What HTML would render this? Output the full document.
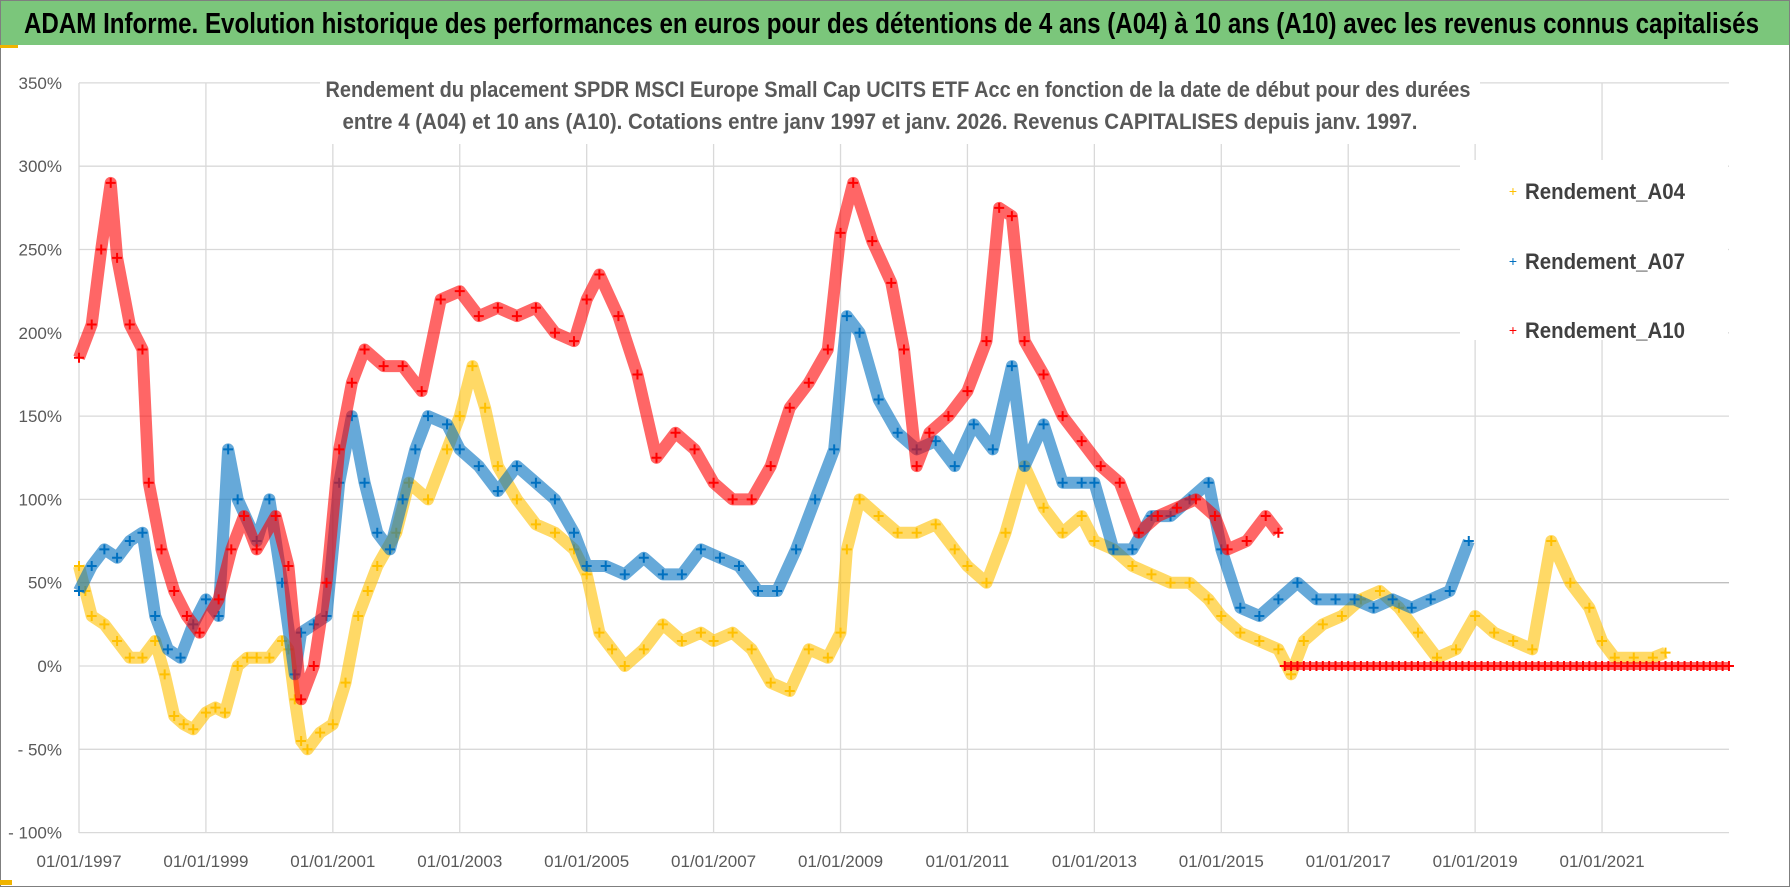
<!DOCTYPE html>
<html><head><meta charset="utf-8"><style>
body{margin:0;background:#fff;width:1790px;height:887px;overflow:hidden}
svg text{font-family:"Liberation Sans",sans-serif}
</style></head><body>
<svg id="chart" width="1790" height="887" xmlns="http://www.w3.org/2000/svg">
<rect x="0.5" y="0.5" width="1789" height="886" fill="#fff" stroke="#7f7f7f"/>
<rect x="1" y="1" width="1788" height="44" fill="#7bc67b"/>
<rect x="0" y="45" width="18" height="3" fill="#f0b400"/>
<rect x="0" y="880" width="12" height="5" fill="#f0b400"/>
<text x="24" y="33" font-size="29" font-weight="bold" fill="#000" textLength="1735" lengthAdjust="spacingAndGlyphs">ADAM Informe. Evolution historique des performances en euros pour des détentions de 4 ans (A04) à 10 ans (A10) avec les revenus connus capitalisés</text>
<g id="grid"></g>
<g id="axes"></g>
<g id="series"></g>
<rect x="320" y="68" width="1160" height="76" fill="#fff"/>
<text x="898" y="97" font-size="22" font-weight="bold" fill="#595959" text-anchor="middle" textLength="1145" lengthAdjust="spacingAndGlyphs">Rendement du placement SPDR MSCI Europe Small Cap UCITS ETF Acc en fonction de la date de début pour des durées</text>
<text x="880" y="129" font-size="22" font-weight="bold" fill="#595959" text-anchor="middle" textLength="1075" lengthAdjust="spacingAndGlyphs">entre 4 (A04) et 10 ans (A10). Cotations entre janv 1997 et janv. 2026. Revenus CAPITALISES depuis janv. 1997.</text>
<g>
<rect x="1460" y="160" width="268" height="180" fill="#fff"/>
<g><text x="1513" y="196" font-size="14" fill="#ffc000" text-anchor="middle">+</text><text x="1525" y="199" font-size="22" font-weight="bold" fill="#404040" textLength="160" lengthAdjust="spacingAndGlyphs">Rendement_A04</text></g>
<g><text x="1513" y="266" font-size="14" fill="#0070c0" text-anchor="middle">+</text><text x="1525" y="269" font-size="22" font-weight="bold" fill="#404040" textLength="160" lengthAdjust="spacingAndGlyphs">Rendement_A07</text></g>
<g><text x="1513" y="335" font-size="14" fill="#ff0000" text-anchor="middle">+</text><text x="1525" y="338" font-size="22" font-weight="bold" fill="#404040" textLength="160" lengthAdjust="spacingAndGlyphs">Rendement_A10</text></g>
</g>
</svg>
<script>
const yTicks=[350,300,250,200,150,100,50,0,-50,-100];
const xTickYears=[1997,1999,2001,2003,2005,2007,2009,2011,2013,2015,2017,2019,2021];
const a04Dates=[1997.0,1997.1,1997.2,1997.4,1997.6,1997.8,1998.0,1998.2,1998.35,1998.5,1998.65,1998.8,1999.0,1999.15,1999.3,1999.5,1999.65,1999.8,2000.0,2000.2,2000.3,2000.4,2000.5,2000.6,2000.8,2001.0,2001.2,2001.4,2001.55,2001.7,2002.0,2002.2,2002.5,2002.8,2003.0,2003.2,2003.4,2003.6,2003.9,2004.2,2004.5,2004.8,2005.0,2005.2,2005.4,2005.6,2005.9,2006.2,2006.5,2006.8,2007.0,2007.3,2007.6,2007.9,2008.2,2008.5,2008.8,2009.0,2009.1,2009.3,2009.6,2009.9,2010.2,2010.5,2010.8,2011.0,2011.3,2011.6,2011.9,2012.2,2012.5,2012.8,2013.0,2013.3,2013.6,2013.9,2014.2,2014.5,2014.8,2015.0,2015.3,2015.6,2015.9,2016.1,2016.3,2016.6,2016.9,2017.2,2017.5,2017.8,2018.1,2018.4,2018.7,2019.0,2019.3,2019.6,2019.9,2020.2,2020.5,2020.8,2021.0,2021.2,2021.5,2021.8,2022.0];
const a04Values=[60,45,30,25,15,5,5,15,-5,-30,-35,-38,-28,-25,-28,0,5,5,5,15,10,-20,-45,-50,-40,-35,-10,30,45,60,80,110,100,130,150,180,155,120,100,85,80,70,55,20,10,0,10,25,15,20,15,20,10,-10,-15,10,5,20,70,100,90,80,80,85,70,60,50,80,120,95,80,90,75,70,60,55,50,50,40,30,20,15,10,-5,15,25,30,40,45,35,20,5,10,30,20,15,10,75,50,35,15,5,5,5,8];
const a07Dates=[1997.0,1997.2,1997.4,1997.6,1997.8,1998.0,1998.2,1998.4,1998.6,1998.8,1999.0,1999.2,1999.35,1999.5,1999.8,2000.0,2000.2,2000.4,2000.5,2000.7,2000.9,2001.1,2001.3,2001.5,2001.7,2001.9,2002.1,2002.3,2002.5,2002.8,2003.0,2003.3,2003.6,2003.9,2004.2,2004.5,2004.8,2005.0,2005.3,2005.6,2005.9,2006.2,2006.5,2006.8,2007.1,2007.4,2007.7,2008.0,2008.3,2008.6,2008.9,2009.1,2009.3,2009.6,2009.9,2010.2,2010.5,2010.8,2011.1,2011.4,2011.7,2011.9,2012.2,2012.5,2012.8,2013.0,2013.3,2013.6,2013.9,2014.2,2014.5,2014.8,2015.0,2015.3,2015.6,2015.9,2016.2,2016.5,2016.8,2017.1,2017.4,2017.7,2018.0,2018.3,2018.6,2018.9];
const a07Values=[45,60,70,65,75,80,30,10,5,25,40,30,130,100,75,100,50,-5,20,25,30,110,150,110,80,70,100,130,150,145,130,120,105,120,110,100,80,60,60,55,65,55,55,70,65,60,45,45,70,100,130,210,200,160,140,130,135,120,145,130,180,120,145,110,110,110,70,70,90,90,100,110,70,35,30,40,50,40,40,40,35,40,35,40,45,75];
const a10Dates=[1997.0,1997.2,1997.35,1997.5,1997.6,1997.8,1998.0,1998.1,1998.3,1998.5,1998.7,1998.9,1999.2,1999.4,1999.6,1999.8,2000.1,2000.3,2000.5,2000.7,2000.9,2001.1,2001.3,2001.5,2001.8,2002.1,2002.4,2002.7,2003.0,2003.3,2003.6,2003.9,2004.2,2004.5,2004.8,2005.0,2005.2,2005.5,2005.8,2006.1,2006.4,2006.7,2007.0,2007.3,2007.6,2007.9,2008.2,2008.5,2008.8,2009.0,2009.2,2009.5,2009.8,2010.0,2010.2,2010.4,2010.7,2011.0,2011.3,2011.5,2011.7,2011.9,2012.2,2012.5,2012.8,2013.1,2013.4,2013.7,2014.0,2014.3,2014.6,2014.9,2015.1,2015.4,2015.7,2015.9];
const a10Values=[185,205,250,290,245,205,190,110,70,45,30,20,40,70,90,70,90,60,-20,0,50,130,170,190,180,180,165,220,225,210,215,210,215,200,195,220,235,210,175,125,140,130,110,100,100,120,155,170,190,260,290,255,230,190,120,140,150,165,195,275,270,195,175,150,135,120,110,80,90,95,100,90,70,75,90,80];
const a10ZeroDates=[2016.0,2016.1,2016.2,2016.3,2016.4,2016.5,2016.6,2016.7,2016.8,2016.9,2017.0,2017.1,2017.2,2017.3,2017.4,2017.5,2017.6,2017.7,2017.8,2017.9,2018.0,2018.1,2018.2,2018.3,2018.4,2018.5,2018.6,2018.7,2018.8,2018.9,2019.0,2019.1,2019.2,2019.3,2019.4,2019.5,2019.6,2019.7,2019.8,2019.9,2020.0,2020.1,2020.2,2020.3,2020.4,2020.5,2020.6,2020.7,2020.8,2020.9,2021.0,2021.1,2021.2,2021.3,2021.4,2021.5,2021.6,2021.7,2021.8,2021.9,2022.0,2022.1,2022.2,2022.3,2022.4,2022.5,2022.6,2022.7,2022.8,2022.9,2023.0];
const a10ZeroValues=[0,0,0,0,0,0,0,0,0,0,0,0,0,0,0,0,0,0,0,0,0,0,0,0,0,0,0,0,0,0,0,0,0,0,0,0,0,0,0,0,0,0,0,0,0,0,0,0,0,0,0,0,0,0,0,0,0,0,0,0,0,0,0,0,0,0,0,0,0,0,0];

const NS='http://www.w3.org/2000/svg';
const X0=79,XPY=63.46,Y0=666,YPP=1.666,RIGHT=1729,TOP=83,BOTTOM=833;
function xs(yr){return X0+(yr-1997)*XPY;}
function ys(v){return Y0-v*YPP;}
function mk(tag,attrs,parent){const e=document.createElementNS(NS,tag);for(const k in attrs)e.setAttribute(k,attrs[k]);parent.appendChild(e);return e;}
const grid=document.getElementById('grid'),axes=document.getElementById('axes'),ser=document.getElementById('series');
yTicks.forEach(t=>{
  const l=mk('line',{x1:X0,x2:RIGHT,y1:ys(t),y2:ys(t),stroke:t===50?'#bfbfbf':'#d9d9d9','stroke-width':1.3},grid);
  
  
  const tx=mk('text',{x:62,y:ys(t)+6,'font-size':17,fill:'#595959','text-anchor':'end'},axes);
  tx.textContent=(t<0?'- '+(-t):t)+'%';
  
  
});
xTickYears.forEach(yr=>{
  const l=mk('line',{x1:xs(yr),x2:xs(yr),y1:TOP,y2:BOTTOM,stroke:'#d9d9d9','stroke-width':1.3},grid);
  
  
  const tx=mk('text',{x:xs(yr),y:867,'font-size':17,fill:'#595959','text-anchor':'middle'},axes);
  tx.textContent='01/01/'+yr;
  
  
});
function drawSeries(dates,vals,color,name,width){
  const g=mk('g',{},ser);
  
  
  const pts=dates.map((d,i)=>xs(d).toFixed(1)+','+ys(vals[i]).toFixed(1)).join(' ');
  const pl=mk('polyline',{points:pts,fill:'none',stroke:color,'stroke-width':width,'stroke-opacity':0.6,'stroke-linejoin':'round'},g);
  
  
  dates.forEach((d,i)=>{
    const x=xs(d),y=ys(vals[i]);
    const p=mk('path',{d:`M${x-5},${y}H${x+5}M${x},${y-5}V${y+5}`,stroke:color,'stroke-width':2},g);
    
    
  });
}
drawSeries(a04Dates,a04Values,'#ffc000','series-a04',12);
drawSeries(a07Dates,a07Values,'#0070c0','series-a07',12);
drawSeries(a10Dates,a10Values,'#ff0000','series-a10',12);
drawSeries(a10ZeroDates,a10ZeroValues,'#ff0000','series-a10-zero',8);
</script>
</body></html>
